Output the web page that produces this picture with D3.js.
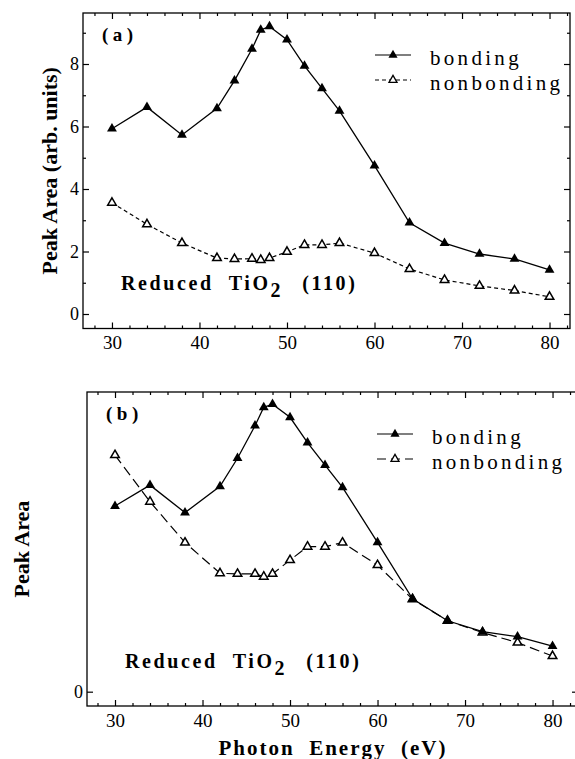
<!DOCTYPE html>
<html>
<head>
<meta charset="utf-8">
<script src="https://cdn.jsdelivr.net/npm/d3@7"></script>
<style>
  html, body { margin: 0; padding: 0; background: #fff; }
  svg { display: block; }
</style>
</head>
<body>
<svg id="chart" width="575" height="759"></svg>
<script>
// Photon energies (eV) at which the peak areas were measured
const energy = [30, 34, 38, 42, 44, 46, 47, 48, 50, 52, 54, 56, 60, 64, 68, 72, 76, 80];

// (a) peak areas in arbitrary units
const bondingA    = [5.93, 6.62, 5.73, 6.58, 7.47, 8.48, 9.09, 9.20, 8.78, 7.94, 7.22, 6.50, 4.75, 2.92, 2.27, 1.92, 1.76, 1.41];
const nonbondingA = [3.56, 2.87, 2.27, 1.79, 1.76, 1.77, 1.73, 1.79, 1.99, 2.21, 2.21, 2.27, 1.95, 1.44, 1.09, 0.90, 0.75, 0.55];

// (b) peak areas, nonbonding rescaled to the bonding intensity at high energy
const bondingB    = [5.94, 6.61, 5.73, 6.57, 7.47, 8.51, 9.10, 9.20, 8.78, 7.97, 7.25, 6.54, 4.78, 2.97, 2.27, 1.92, 1.76, 1.46];
const nonbondingB = [7.57, 6.08, 4.77, 3.79, 3.77, 3.77, 3.68, 3.77, 4.21, 4.64, 4.64, 4.77, 4.05, 2.96, 2.27, 1.89, 1.57, 1.14];

// Axis ticks
const xMajorTicks = [30, 40, 50, 60, 70, 80];
const xMinorTicks = [28, 32, 34, 36, 38, 42, 44, 46, 48, 52, 54, 56, 58, 62, 64, 66, 68, 72, 74, 76, 78, 82];
const yMajorTicksA = [0, 2, 4, 6, 8];
const yMinorTicksA = [1, 3, 5, 7, 9];
const yMajorTicksB = [0];

const seriesLabels = ["bonding", "nonbonding"];

const SERIF = '"Liberation Serif", "Times New Roman", Times, serif';
const svg = d3.select("#chart");

function drawPanel(cfg) {
  const g = svg.append("g");
  const x = d3.scaleLinear().domain(cfg.xDomain).range([cfg.left, cfg.right]);
  const y = d3.scaleLinear().domain(cfg.yDomain).range([cfg.bottom, cfg.top]);

  // frame
  g.append("rect")
    .attr("x", cfg.left).attr("y", cfg.top)
    .attr("width", cfg.right - cfg.left).attr("height", cfg.bottom - cfg.top)
    .attr("fill", "none").attr("stroke", "#000").attr("stroke-width", 1.3);

  const styleAxis = sel => {
    sel.select(".domain").remove();
    sel.selectAll(".tick line").attr("stroke", "#000").attr("stroke-width", 1.2);
    sel.selectAll("text").style("font-family", SERIF).attr("fill", "#000");
  };

  // bottom axis with labels, ticks pointing inward
  g.append("g").attr("transform", `translate(0,${cfg.bottom})`)
    .call(d3.axisBottom(x).tickValues(xMajorTicks).tickSize(-6).tickPadding(cfg.xPad).tickFormat(d3.format("d")))
    .call(styleAxis)
    .call(s => s.selectAll("text").style("font-size", "19px"));
  g.append("g").attr("transform", `translate(0,${cfg.bottom})`)
    .call(d3.axisBottom(x).tickValues(xMinorTicks).tickSize(-3).tickFormat(""))
    .call(styleAxis);
  // mirrored top axis
  g.append("g").attr("transform", `translate(0,${cfg.top})`)
    .call(d3.axisTop(x).tickValues(xMajorTicks).tickSize(-6).tickFormat(""))
    .call(styleAxis);
  g.append("g").attr("transform", `translate(0,${cfg.top})`)
    .call(d3.axisTop(x).tickValues(xMinorTicks).tickSize(-3).tickFormat(""))
    .call(styleAxis);

  // left axis
  g.append("g").attr("transform", `translate(${cfg.left},0)`)
    .call(d3.axisLeft(y).tickValues(cfg.yMajor).tickSize(-6).tickPadding(4).tickFormat(d3.format("d")))
    .call(styleAxis)
    .call(s => s.selectAll("text").style("font-size", "18px"));
  if (cfg.yMinor.length) {
    g.append("g").attr("transform", `translate(${cfg.left},0)`)
      .call(d3.axisLeft(y).tickValues(cfg.yMinor).tickSize(-3).tickFormat(""))
      .call(styleAxis);
  }
  // mirrored right axis
  g.append("g").attr("transform", `translate(${cfg.right},0)`)
    .call(d3.axisRight(y).tickValues(cfg.yMajor).tickSize(-6).tickFormat(""))
    .call(styleAxis);
  if (cfg.yMinor.length) {
    g.append("g").attr("transform", `translate(${cfg.right},0)`)
      .call(d3.axisRight(y).tickValues(cfg.yMinor).tickSize(-3).tickFormat(""))
      .call(styleAxis);
  }

  const line = d3.line().x(d => x(d[0])).y(d => y(d[1]));
  const tri = d3.symbol().type(d3.symbolTriangle);

  // nonbonding: dashed line, open triangles
  const nb = energy.map((e, i) => [e, cfg.nonbonding[i]]);
  g.append("path").attr("d", line(nb)).attr("fill", "none")
    .attr("stroke", "#000").attr("stroke-width", 1.2).attr("stroke-dasharray", cfg.dash);
  g.selectAll(".nb").data(nb).join("path")
    .attr("transform", d => `translate(${x(d[0])},${y(d[1])})`)
    .attr("d", tri.size(32)()).attr("fill", "#fff").attr("stroke", "#000").attr("stroke-width", 1.5);

  // bonding: solid line, filled triangles
  const bd = energy.map((e, i) => [e, cfg.bonding[i]]);
  g.append("path").attr("d", line(bd)).attr("fill", "none")
    .attr("stroke", "#000").attr("stroke-width", 1.3);
  g.selectAll(".bd").data(bd).join("path")
    .attr("transform", d => `translate(${x(d[0])},${y(d[1])})`)
    .attr("d", tri.size(42)()).attr("fill", "#000");

  // panel letter
  g.append("text").attr("x", cfg.left + 19).attr("y", cfg.top + 28)
    .style("font-family", SERIF).style("font-size", "19px").style("font-weight", "bold")
    .style("letter-spacing", "4.5px")
    .text(cfg.letter);

  // legend
  const lx = cfg.legendX, ly = cfg.legendY;
  [0, 1].forEach(i => {
    const yy = ly + i * cfg.legendGap;
    g.append("line").attr("x1", lx).attr("x2", lx + 36).attr("y1", yy).attr("y2", yy)
      .attr("stroke", "#000").attr("stroke-width", 1.2)
      .attr("stroke-dasharray", i === 0 ? null : cfg.legendDash);
    g.append("path").attr("transform", `translate(${lx + 18},${yy})`)
      .attr("d", tri.size(i === 0 ? 36 : 28)())
      .attr("fill", i === 0 ? "#000" : "#fff").attr("stroke", "#000").attr("stroke-width", i === 0 ? 0 : 1.3);
    g.append("text").attr("x", lx + 55).attr("y", yy + 10)
      .style("font-family", SERIF).style("font-size", "21px").style("letter-spacing", "3.3px")
      .text(seriesLabels[i]);
  });

  // sample annotation
  const t = g.append("text").attr("x", cfg.left + 38).attr("y", cfg.noteY)
    .style("font-family", SERIF).style("font-size", "20px").style("font-weight", "bold")
    .style("letter-spacing", "2.6px");
  t.append("tspan").text("Reduced");
  t.append("tspan").attr("dx", 15).text("TiO");
  t.append("tspan").attr("dy", 7).text("2");
  t.append("tspan").attr("dy", -7).attr("dx", 19).text("(110)");

  // y-axis title
  g.append("text")
    .attr("transform", `translate(${cfg.yTitleX},${(cfg.top + cfg.bottom) / 2}) rotate(-90)`)
    .attr("text-anchor", "middle")
    .style("font-family", SERIF).style("font-size", "22px").style("font-weight", "bold")
    .text(cfg.yTitle);

  return { x, y };
}

drawPanel({
  left: 83, right: 570, top: 13, bottom: 328.5,
  xDomain: [26.69, 82.34], yDomain: [-0.464, 9.632],
  yMajor: yMajorTicksA, yMinor: yMinorTicksA, xPad: 7,
  bonding: bondingA, nonbonding: nonbondingA,
  dash: "4,3", legendDash: "4,3",
  letter: "(a)", legendX: 375, legendY: 55, legendGap: 25,
  noteY: 290, yTitle: "Peak Area (arb. units)", yTitleX: 57
});

drawPanel({
  left: 87, right: 578, top: 392, bottom: 706,
  xDomain: [26.8, 82.91], yDomain: [-0.458, 9.59],
  yMajor: yMajorTicksB, yMinor: [], xPad: 8,
  bonding: bondingB, nonbonding: nonbondingB,
  dash: "10,5", legendDash: "9,5",
  letter: "(b)", legendX: 377, legendY: 434, legendGap: 25,
  noteY: 668, yTitle: "Peak Area", yTitleX: 29
});

// shared x-axis title
svg.append("text").attr("x", 333).attr("y", 755)
  .attr("text-anchor", "middle")
  .style("font-family", SERIF).style("font-size", "21px").style("font-weight", "bold")
  .style("letter-spacing", "2px").style("white-space", "pre")
  .text("Photon  Energy  (eV)");
</script>
</body>
</html>
